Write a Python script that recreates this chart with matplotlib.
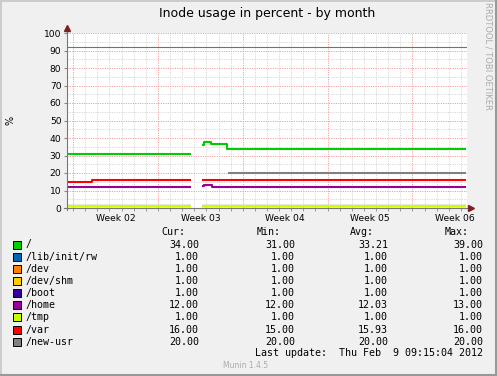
import numpy as np
import matplotlib
matplotlib.use("Agg")
import matplotlib.pyplot as plt
from matplotlib.patches import Rectangle
from matplotlib.lines import Line2D

W, H = 497, 376
nan = np.nan

# series in munin order: name, colour, current/min/avg/max
names = ["/", "/lib/init/rw", "/dev", "/dev/shm", "/boot", "/home", "/tmp", "/var", "/new-usr"]
colors = ["#00cc00", "#0066b3", "#ff8000", "#ffcc00", "#330099", "#990099", "#ccff00", "#ff0000", "#808080"]
cur = [34.00, 1.00, 1.00, 1.00, 1.00, 12.00, 1.00, 16.00, 20.00]
mins = [31.00, 1.00, 1.00, 1.00, 1.00, 12.00, 1.00, 15.00, 20.00]
avgs = [33.21, 1.00, 1.00, 1.00, 1.00, 12.03, 1.00, 15.93, 20.00]
maxs = [39.00, 1.00, 1.00, 1.00, 1.00, 13.00, 1.00, 16.00, 20.00]

# time in days from the left edge of the graph, values in percent (step post)
root_t = [0.0, 10.2, 11.1, 11.3, 11.9, 13.2, 32.9]
root_v = [31, nan, 36, 37.5, 36.5, 34, 34]
one_t = [0.0, 10.2, 11.1, 32.9]
one_v = [1, nan, 1, 1]
home_t = [0.0, 10.2, 11.1, 11.3, 12.0, 32.9]
home_v = [12, nan, 12.5, 13, 12, 12]
var_t = [0.0, 2.05, 10.2, 11.1, 32.9]
var_v = [15, 16, nan, 16, 16]
usr_t = [13.3, 32.9]
usr_v = [20, 20]
series_t = [root_t, one_t, one_t, one_t, one_t, home_t, one_t, var_t, usr_t]
series_v = [root_v, one_v, one_v, one_v, one_v, home_v, one_v, var_v, usr_v]
warn_level = 92

week_pos = [4, 11, 18, 25, 32]
week_labels = ["Week 02", "Week 03", "Week 04", "Week 05", "Week 06"]
x_max = 33.0


def fx(px):
    return px / W


def fy(py):
    return 1 - py / H


fig = plt.figure(figsize=(W / 100, H / 100), dpi=100)
fig.patch.set_facecolor("#f0f0f0")

# 3d-ish frame
fig.add_artist(Rectangle((0, 0), 1, 1, transform=fig.transFigure, fill=False,
                         edgecolor="#ffffff", lw=0))
fig.add_artist(Line2D([0, 1], [fy(0.5), fy(0.5)], transform=fig.transFigure, color="#cccccc", lw=1.4))
fig.add_artist(Line2D([fx(0.5), fx(0.5)], [0, 1], transform=fig.transFigure, color="#cccccc", lw=1.4))
fig.add_artist(Line2D([0, 1], [fy(375), fy(375)], transform=fig.transFigure, color="#999999", lw=2.2))
fig.add_artist(Line2D([fx(496), fx(496)], [0, 1], transform=fig.transFigure, color="#999999", lw=2.2))

ax = fig.add_axes([fx(67), fy(208), 400 / W, 175 / H])
ax.set_facecolor("#ffffff")
ax.set_xlim(0, x_max)
ax.set_ylim(0, 100)
for s in ax.spines.values():
    s.set_visible(False)

# grid
for k in range(33):
    d = 0.5 + k
    major = k % 7 == 0
    ax.axvline(d, color="#f0a0a0" if major else "#d8d8d8", lw=0.7,
               ls=(0, (1.2, 1.2)), zorder=1)
for v in range(5, 101, 5):
    major = v % 10 == 0
    ax.axhline(v, color="#f0a0a0" if major else "#d8d8d8", lw=0.7,
               ls=(0, (1.2, 1.2)), zorder=1)

ax.axhline(warn_level, color="#22aa22", lw=0.8, zorder=2)

for t, v, c in zip(series_t, series_v, colors):
    ax.step(t, v, where="post", color=c, lw=1.5, zorder=3, solid_capstyle="butt")

ax.set_xticks(week_pos)
ax.set_xticklabels(week_labels)
ax.set_yticks(range(0, 101, 10))
ax.tick_params(axis="x", length=0, labelsize=6.6, pad=4, colors="#000000")
ax.tick_params(axis="y", length=2, labelsize=6.6, pad=2, color="#888888")
ax.set_xticks([0.5 + k for k in range(33)], minor=True)
ax.tick_params(axis="x", which="minor", length=2, color="#888888")

# axis lines with arrows
fig.add_artist(Line2D([fx(67), fx(67)], [fy(210), fy(28)], transform=fig.transFigure,
                      color="#777777", lw=0.8))
fig.add_artist(Line2D([fx(64), fx(470)], [fy(208), fy(208)], transform=fig.transFigure,
                      color="#777777", lw=0.8))
fig.add_artist(Line2D([fx(67)], [fy(28)], transform=fig.transFigure, marker="^",
                      markersize=4, color="#7f1f1f", lw=0))
fig.add_artist(Line2D([fx(471)], [fy(208)], transform=fig.transFigure, marker=">",
                      markersize=4, color="#7f1f1f", lw=0))

fig.text(fx(267), fy(14), "Inode usage in percent - by month", ha="center", va="center",
         fontsize=9, color="#000000")
fig.text(fx(10), fy(120), "%", rotation=90, ha="center", va="center", fontsize=7)
fig.text(fx(488), fy(56), "RRDTOOL / TOBI OETIKER", rotation=270, ha="center", va="center",
         fontsize=6, color="#aaaaaa")

# legend
mono = "DejaVu Sans Mono"
fs = 7.2
col_right = [199, 295, 388, 483]
heads = ["Cur:", "Min:", "Avg:", "Max:"]
for xr, h in zip(col_right, heads):
    fig.text(fx(xr - 14), fy(232), h, ha="right", va="center", family=mono, fontsize=fs)

for i, name in enumerate(names):
    y = 244.5 + i * 12.15
    fig.add_artist(Rectangle((fx(13), fy(y + 4)), 8 / W, 8 / H, transform=fig.transFigure,
                             facecolor=colors[i], edgecolor="#000000", lw=0.7))
    fig.text(fx(26), fy(y), name, ha="left", va="center", family=mono, fontsize=fs)
    for xr, vals in zip(col_right, [cur, mins, avgs, maxs]):
        fig.text(fx(xr), fy(y), "%.2f" % vals[i], ha="right", va="center",
                 family=mono, fontsize=fs)

fig.text(fx(483), fy(353), "Last update:  Thu Feb  9 09:15:04 2012", ha="right", va="center",
         family=mono, fontsize=fs)
fig.text(fx(246), fy(365), "Munin 1.4.5", ha="center", va="center", fontsize=5.5,
         color="#aaaaaa")

fig.savefig("out.png", dpi=100, facecolor=fig.get_facecolor())
